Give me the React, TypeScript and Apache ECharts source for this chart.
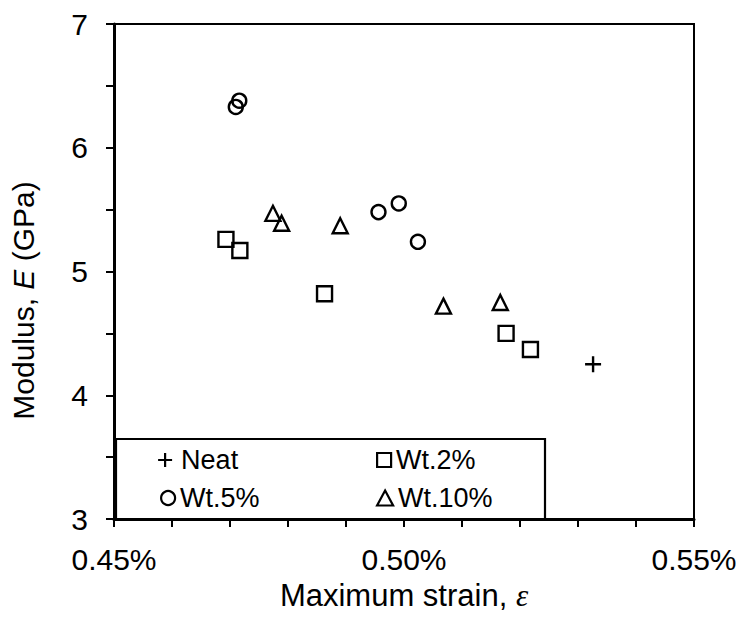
import React, { useEffect, useRef } from "react";
import * as echarts from "echarts";

// Maximum strain (%) and modulus (GPa) per specimen group
const neatStrain = [0.5326];
const neatModulus = [4.25];

const wt2Strain = [0.4693, 0.4717, 0.4863, 0.5176, 0.5218];
const wt2Modulus = [5.26, 5.17, 4.82, 4.5, 4.37];

const wt5Strain = [0.4716, 0.471, 0.4956, 0.4991, 0.5024];
const wt5Modulus = [6.38, 6.33, 5.48, 5.55, 5.24];

const wt10Strain = [0.4774, 0.4789, 0.489, 0.5068, 0.5166];
const wt10Modulus = [5.47, 5.39, 5.37, 4.72, 4.75];

const seriesNames = ["Neat", "Wt.2%", "Wt.5%", "Wt.10%"];

const FONT = "'Liberation Sans', Arial, sans-serif";
const PLUS = "path://M0,6H12M6,0V12";

const pairs = (xs: number[], ys: number[]) => xs.map((x, i) => [x, ys[i]]);

export default function App() {
  const ref = useRef<HTMLDivElement>(null);

  useEffect(() => {
    if (!ref.current) return;
    const chart = echarts.init(ref.current, null, { renderer: "svg" });

    const markerStyle = {
      color: "rgba(0,0,0,0)",
      borderColor: "#000",
      borderWidth: 2.4,
      opacity: 1,
    };

    const scatter = (name: string, data: number[][], symbol: string, size: number) => ({
      name,
      type: "scatter",
      data,
      symbol,
      symbolSize: size,
      itemStyle: markerStyle,
      emphasis: { disabled: true },
    });

    const legendAt = (name: string, left: number, top: number, w: number, h: number) => ({
      data: [name],
      left,
      top,
      padding: 0,
      itemWidth: w,
      itemHeight: h,
      selectedMode: false,
      itemStyle: { borderWidth: 2.2, borderColor: "#000", color: "rgba(0,0,0,0)", opacity: 1 },
      textStyle: { fontFamily: FONT, fontSize: 27, color: "#000", lineHeight: 28 },
    });

    chart.setOption({
      animation: false,
      backgroundColor: "#fff",
      grid: {
        left: 114,
        top: 24,
        right: 50,
        bottom: 98,
        show: true,
        borderColor: "#000",
        borderWidth: 2,
        backgroundColor: "transparent",
      },
      xAxis: {
        type: "value",
        min: 0.45,
        max: 0.55,
        interval: 0.01,
        name: "Maximum strain, {i|ε}",
        nameLocation: "middle",
        nameGap: 61,
        nameTextStyle: {
          fontFamily: FONT,
          fontSize: 31,
          color: "#000",
          rich: {
            i: { fontFamily: "'Liberation Serif', serif", fontStyle: "italic", fontSize: 31, color: "#000" },
          },
        },
        axisLine: { onZero: false, lineStyle: { color: "#000", width: 3 } },
        axisTick: { inside: false, length: 8, lineStyle: { color: "#000", width: 2 } },
        axisLabel: {
          margin: 25,
          fontFamily: FONT,
          fontSize: 30,
          color: "#000",
          formatter: (v: number) =>
            Math.abs(v * 100 - Math.round(v * 20) * 5) < 1e-6 ? v.toFixed(2) + "%" : "",
        },
        splitLine: { show: false },
      },
      yAxis: {
        type: "value",
        min: 3,
        max: 7,
        interval: 0.5,
        name: "Modulus, {i|E} (GPa)",
        nameLocation: "middle",
        nameGap: 76,
        nameTextStyle: {
          fontFamily: FONT,
          fontSize: 30,
          color: "#000",
          padding: [0, 58, 0, 0],
          rich: {
            i: { fontFamily: FONT, fontStyle: "italic", fontSize: 30, color: "#000" },
          },
        },
        axisLine: { onZero: false, lineStyle: { color: "#000", width: 3 } },
        axisTick: { inside: false, length: 8, lineStyle: { color: "#000", width: 2 } },
        axisLabel: {
          margin: 26,
          fontFamily: FONT,
          fontSize: 30,
          color: "#000",
          formatter: (v: number) => (Math.abs(v - Math.round(v)) < 1e-6 ? String(Math.round(v)) : ""),
        },
        splitLine: { show: false },
      },
      legend: [
        legendAt(seriesNames[0], 157, 446, 22, 14),
        legendAt(seriesNames[1], 376, 446, 14, 14),
        legendAt(seriesNames[2], 160, 484, 14, 14),
        legendAt(seriesNames[3], 376, 484, 16, 15),
      ],
      graphic: [
        {
          type: "rect",
          z: 1,
          shape: { x: 116, y: 439, width: 429, height: 80 },
          style: { fill: "none", stroke: "#000", lineWidth: 2.2 },
        },
      ],
      series: [
        scatter(seriesNames[0], pairs(neatStrain, neatModulus), PLUS, 16),
        scatter(seriesNames[1], pairs(wt2Strain, wt2Modulus), "rect", 15),
        scatter(seriesNames[2], pairs(wt5Strain, wt5Modulus), "circle", 14),
        scatter(seriesNames[3], pairs(wt10Strain, wt10Modulus), "triangle", 15),
      ],
    });

    return () => chart.dispose();
  }, []);

  return (
    <div
      ref={ref}
      style={{ position: "fixed", left: 0, top: 0, width: 744, height: 617 }}
    />
  );
}
